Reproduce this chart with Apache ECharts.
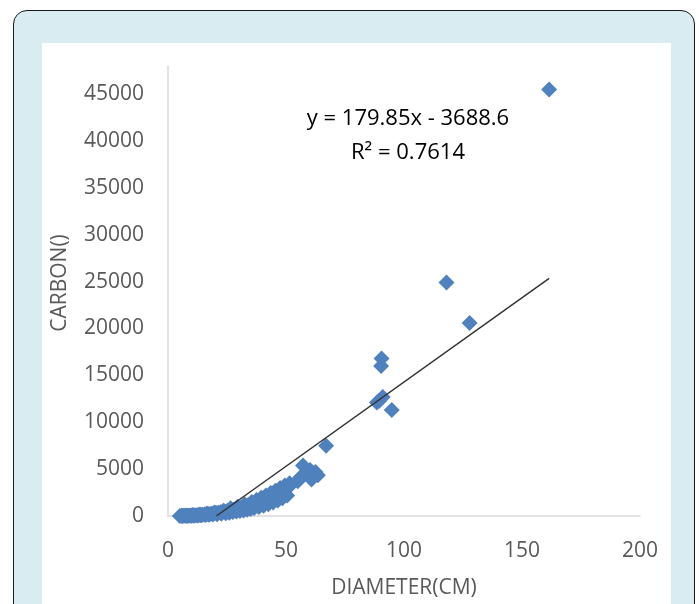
<!DOCTYPE html>
<html>
<head>
<meta charset="utf-8">
<script src="https://cdn.jsdelivr.net/npm/echarts/dist/echarts.min.js"></script>
<style>
  html, body { margin: 0; padding: 0; width: 699px; height: 604px; overflow: hidden; background: #ffffff; }
  #frame { position: absolute; left: 13px; top: 10px; width: 680px; height: 640px;
           border: 1.5px solid #1a1a1a; border-radius: 14px; background: #d8ecf2; }
  #panel { position: absolute; left: 42px; top: 43px; width: 629px; height: 580px; background: #ffffff; }
  #chart { position: absolute; left: 0; top: 0; width: 699px; height: 604px; }
</style>
</head>
<body>
<div id="frame"></div>
<div id="panel"></div>
<div id="chart"></div>
<script>
// Tree diameter (cm) and estimated carbon
const diameter = [
  5.0, 5.8, 6.5, 7.2, 7.9, 8.6, 9.3, 10.0, 10.8, 11.5, 12.3, 13.0, 13.8, 14.6, 15.4, 16.2, 17.0,
  17.8, 18.7, 19.5, 20.4, 21.3, 22.2, 23.1, 24.0, 25.0, 26.0, 27.0, 28.0, 29.0, 30.0, 31.0, 32.0,
  33.0, 34.0, 35.0, 36.0, 37.0, 38.0, 39.0, 40.0, 41.0, 42.0, 43.0, 44.0, 45.0, 46.0, 47.0, 48.0,
  49.0, 50.0, 51.0, 52.0,
  6.0, 8.2, 9.8, 11.0, 12.6, 14.0, 15.8, 17.4, 19.0, 20.8, 22.6, 24.5, 26.0, 27.5, 29.0, 30.5, 32.0,
  33.5, 35.0, 36.5, 38.5, 40.5, 42.5, 44.5, 46.5, 48.5, 50.5,
  7.5, 10.5, 13.5, 16.5, 19.8, 23.5, 26.5, 29.5, 32.5, 35.5, 37.5, 39.5, 41.5, 43.5, 45.5, 47.5, 49.5, 51.5,
  55.0, 56.0, 57.2, 58.5, 60.2, 60.8, 62.5, 63.5, 67.0,
  88.5, 89.5, 91.0, 90.3, 90.5, 94.8, 118.0, 127.8, 161.5
];
const carbon = [
  9, 14, 18, 24, 30, 37, 45, 54, 65, 76, 90, 103, 120, 138, 158, 178, 202,
  226, 256, 285, 318, 354, 392, 434, 478, 530, 585, 643, 705, 770, 836, 905, 980,
  1060, 1140, 1230, 1320, 1410, 1510, 1610, 1720, 1830, 1940, 2060, 2180, 2300, 2440, 2570, 2710,
  2850, 3000, 3150, 3310,
  5, 15, 25, 40, 55, 80, 100, 140, 170, 200, 240, 300, 350, 420, 480, 530, 600,
  680, 760, 850, 960, 1100, 1250, 1450, 1650, 1900, 2200,
  60, 110, 170, 260, 380, 560, 820, 1000, 1250, 1500, 1700, 1950, 2200, 2450, 2700, 3000, 3250, 3500,
  3700, 4100, 5400, 4500, 4900, 3900, 4700, 4350, 7500,
  12100, 12300, 12700, 16000, 16800, 11300, 24900, 20600, 45500
];

// Linear trendline coefficients
const slope = 179.85;
const intercept = -3688.6;
const rSquared = 0.7614;

// Axis tick settings
const xTicks = { min: 0, max: 200, interval: 50 };
const yTicks = { min: 0, max: 48000, interval: 5000 };

const points = diameter.map((d, i) => [d, carbon[i]]);
const xStart = Math.max(Math.min(...diameter), -intercept / slope);
const xEnd = Math.max(...diameter);
const trend = [
  [xStart, slope * xStart + intercept],
  [xEnd, slope * xEnd + intercept]
];

const font = '"Open Sans", "Liberation Sans", sans-serif';
const chart = echarts.init(document.getElementById('chart'), null, { renderer: 'canvas' });
chart.setOption({
  backgroundColor: 'transparent',
  animation: false,
  grid: { left: 168, right: 59, top: 66, bottom: 86 },
  xAxis: {
    type: 'value',
    min: xTicks.min, max: xTicks.max, interval: xTicks.interval,
    name: 'DIAMETER(CM)',
    nameLocation: 'middle',
    nameGap: 62,
    nameTextStyle: { color: '#595959', fontSize: 21, fontFamily: font },
    axisLine: { show: true, lineStyle: { color: '#d9d9d9', width: 1.5 } },
    axisTick: { show: false },
    splitLine: { show: false },
    axisLabel: { color: '#595959', fontSize: 21, fontFamily: font, margin: 25 }
  },
  yAxis: {
    type: 'value',
    min: yTicks.min, max: yTicks.max, interval: yTicks.interval,
    axisLine: { show: true, lineStyle: { color: '#d9d9d9', width: 1.5 } },
    axisTick: { show: false },
    splitLine: { show: false },
    axisLabel: { color: '#595959', fontSize: 21, fontFamily: font, margin: 24, showMaxLabel: false,
                 formatter: (v) => String(v) }
  },
  series: [
    {
      type: 'scatter',
      data: points,
      symbol: 'diamond',
      symbolSize: 16,
      itemStyle: { color: '#4f81bd', opacity: 1 },
      z: 2
    },
    {
      type: 'line',
      data: trend,
      showSymbol: false,
      lineStyle: { color: '#333333', width: 1.5 },
      z: 3
    }
  ],
  graphic: [
    {
      type: 'text', x: 60, y: 283, rotation: Math.PI / 2,
      style: { text: 'CARBON()', fill: '#595959', font: '21px ' + font,
               textAlign: 'center', textVerticalAlign: 'middle' }
    },
    {
      type: 'text', x: 408, y: 119,
      style: { text: 'y = ' + slope + 'x - ' + Math.abs(intercept), fill: '#000000',
               font: '22px ' + font, textAlign: 'center', textVerticalAlign: 'middle' }
    },
    {
      type: 'text', x: 408, y: 153,
      style: { text: 'R² = ' + rSquared, fill: '#000000',
               font: '22px ' + font, textAlign: 'center', textVerticalAlign: 'middle' }
    }
  ]
});
</script>
</body>
</html>
